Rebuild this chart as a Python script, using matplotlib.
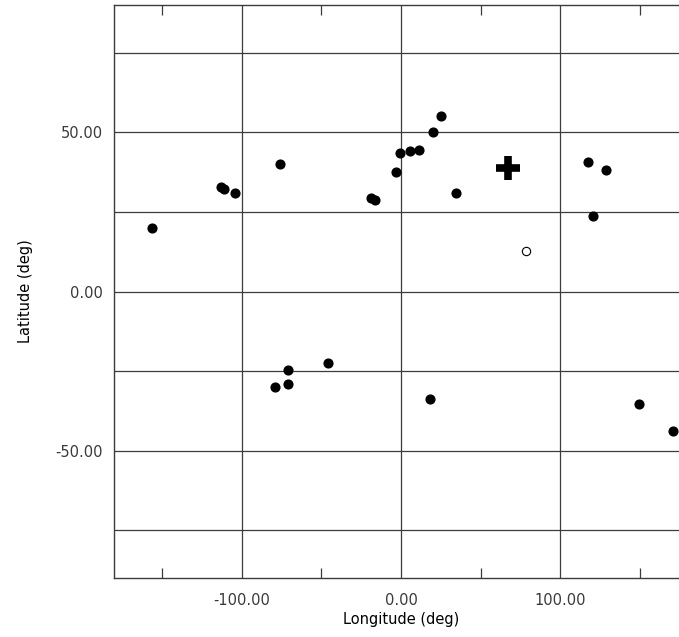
import matplotlib
matplotlib.use("Agg")
import matplotlib.pyplot as plt
from matplotlib.ticker import FixedLocator, NullFormatter

# Filled station markers (longitude, latitude in degrees)
LON = [-156.0, -112.6, -110.7, -104.4, -76.2, -18.6, -16.5, -2.9, -0.4, 5.5,
       11.4, 19.9, 25.4, 34.3, 117.2, 128.5, 120.5, -45.8, -70.7, -70.7,
       -79.3, 18.0, 149.0, 170.6]
LAT = [20.0, 32.8, 32.1, 30.9, 40.1, 29.4, 28.7, 37.6, 43.4, 44.1,
       44.4, 50.0, 55.1, 30.9, 40.6, 38.3, 23.6, -22.4, -24.6, -29.0,
       -30.0, -33.9, -35.3, -43.9]

# Special points
CROSS_LON, CROSS_LAT = [67.0], [38.8]
OPEN_LON, OPEN_LAT = [78.3], [12.7]

X_MAJOR = [-100, 0, 100]
X_MINOR = [-150, -50, 50, 150]
Y_MAJOR = [-50, 0, 50]
Y_MINOR = [-75, -25, 25, 75]

GRID = "#3c3c3c"

fig = plt.figure(figsize=(6.79, 6.37), dpi=100)
ax = fig.add_axes([114 / 679, 59 / 637, 574 / 679, 573 / 637])
ax.set_xlim(-180, 180)
ax.set_ylim(-90, 90)

ax.plot(LON, LAT, "o", ms=6.3, color="black", mec="black", zorder=3)
ax.plot(CROSS_LON, CROSS_LAT, marker="+", ms=17, mew=5.5, color="black",
        linestyle="none", zorder=3)
ax.plot(OPEN_LON, OPEN_LAT, "o", ms=6.0, mfc="white", mec="black", mew=0.8,
        zorder=3)

ax.xaxis.set_major_locator(FixedLocator(X_MAJOR))
ax.xaxis.set_minor_locator(FixedLocator(X_MINOR))
ax.yaxis.set_major_locator(FixedLocator(Y_MAJOR))
ax.yaxis.set_minor_locator(FixedLocator(Y_MINOR))
ax.xaxis.set_major_formatter(lambda v, p: f"{v:.2f}")
ax.yaxis.set_major_formatter(lambda v, p: f"{v:.2f}")
ax.yaxis.set_minor_formatter(NullFormatter())

ax.grid(True, which="major", color=GRID, lw=0.9)
ax.grid(True, which="minor", axis="y", color=GRID, lw=0.9)
ax.set_axisbelow(True)

ax.tick_params(axis="x", which="major", length=0, pad=11,
               labelsize=10.5, labelcolor="#3a3a3a")
ax.tick_params(axis="x", which="minor", direction="in", length=7, width=0.9,
               color=GRID, top=True, bottom=True)
ax.tick_params(axis="y", which="both", length=0, pad=8,
               labelsize=10.5, labelcolor="#3a3a3a")

for s in ax.spines.values():
    s.set_color(GRID)
    s.set_linewidth(1.0)

ax.set_xlabel("Longitude (deg)", fontsize=10.5, labelpad=3)
ax.set_ylabel("Latitude (deg)", fontsize=10.5, labelpad=16)

fig.savefig("out.png", dpi=100)
